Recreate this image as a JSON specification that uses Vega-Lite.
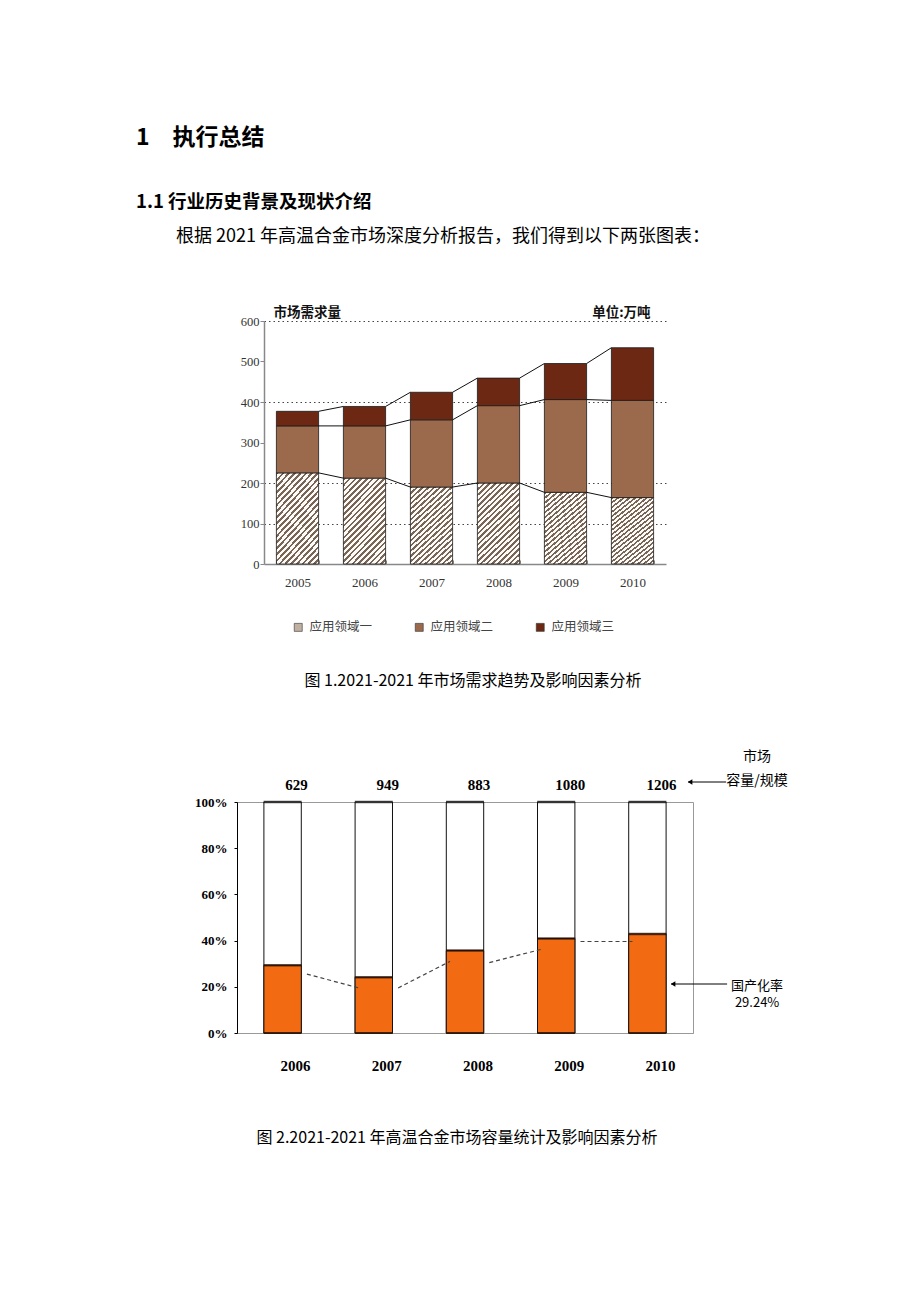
{
  "$schema": "https://vega.github.io/schema/vega-lite/v6.json",
  "padding": {"left": 136, "top": 126, "right": 10, "bottom": 10},
  "background": "white",
  "config": {
    "font": "Noto Sans CJK SC",
    "view": {"stroke": null},
    "axis": {"grid": false}
  },
  "title": {
    "text": "1　执行总结",
    "subtitle": "1.1  行业历史背景及现状介绍",
    "anchor": "start", "frame": "bounds", "dx": -40, "offset": 17,
    "font": "Noto Sans CJK SC", "fontSize": 23, "fontWeight": "bold", "color": "#000",
    "subtitleFont": "Noto Sans CJK SC", "subtitleFontSize": 18.5, "subtitleFontWeight": "bold",
    "subtitleColor": "#000", "subtitlePadding": 43
  },
  "spacing": 60,
  "vconcat": [
    {
      "title": {
        "text": "根据 2021 年高温合金市场深度分析报告，我们得到以下两张图表：",
        "anchor": "start", "frame": "bounds", "dx": -61, "offset": 60,
        "font": "Noto Sans CJK SC", "fontSize": 18, "fontWeight": "normal", "color": "#000"
      },
      "spacing": 0,
      "hconcat": [
        {
          "width": 3,
          "height": 243,
          "data": {"values": []},
          "mark": {"type": "point", "opacity": 0}
        },
        {
          "width": 402,
          "height": 243,
          "view": {"stroke": null},
          "title": {
            "text": "图 1.2021-2021 年市场需求趋势及影响因素分析",
            "orient": "bottom", "anchor": "middle", "frame": "group", "dx": 8, "offset": 84,
            "font": "Noto Sans CJK SC", "fontSize": 16, "fontWeight": "normal", "color": "#000"
          },
          "layer": [
            {
              "data": {"values": [
                {"year": "2005", "domain": "应用领域一", "k": 1, "value": 225},
                {"year": "2005", "domain": "应用领域二", "k": 2, "value": 116},
                {"year": "2005", "domain": "应用领域三", "k": 3, "value": 36},
                {"year": "2006", "domain": "应用领域一", "k": 1, "value": 212},
                {"year": "2006", "domain": "应用领域二", "k": 2, "value": 129},
                {"year": "2006", "domain": "应用领域三", "k": 3, "value": 48},
                {"year": "2007", "domain": "应用领域一", "k": 1, "value": 190},
                {"year": "2007", "domain": "应用领域二", "k": 2, "value": 166},
                {"year": "2007", "domain": "应用领域三", "k": 3, "value": 68},
                {"year": "2008", "domain": "应用领域一", "k": 1, "value": 200},
                {"year": "2008", "domain": "应用领域二", "k": 2, "value": 191},
                {"year": "2008", "domain": "应用领域三", "k": 3, "value": 68},
                {"year": "2009", "domain": "应用领域一", "k": 1, "value": 177},
                {"year": "2009", "domain": "应用领域二", "k": 2, "value": 229},
                {"year": "2009", "domain": "应用领域三", "k": 3, "value": 89},
                {"year": "2010", "domain": "应用领域一", "k": 1, "value": 164},
                {"year": "2010", "domain": "应用领域二", "k": 2, "value": 240},
                {"year": "2010", "domain": "应用领域三", "k": 3, "value": 130}
              ]},
              "mark": {"type": "bar", "stroke": "#1a1a1a", "strokeWidth": 0.8},
              "encoding": {
                "x": {
                  "field": "year", "type": "ordinal",
                  "scale": {"paddingInner": 0.37, "paddingOuter": 0.185},
                  "axis": {
                    "title": null, "labelAngle": 0, "labelFont": "Liberation Serif", "labelFontSize": 13,
                    "labelColor": "#333", "labelPadding": 16, "ticks": true, "tickBand": "extent",
                    "tickSize": -4, "tickColor": "#888", "domainColor": "#888", "domainWidth": 1.5
                  }
                },
                "y": {
                  "field": "value", "type": "quantitative", "stack": "zero",
                  "scale": {"domain": [0, 600], "nice": false},
                  "axis": {
                    "title": null,
                    "values": [0, 100, 200, 300, 400, 500, 600],
                    "labelFont": "Liberation Serif", "labelFontSize": 12.5, "labelColor": "#333",
                    "labelPadding": 1, "tickSize": 4, "tickColor": "#888", "domainColor": "#888",
                    "domainWidth": 1.5, "grid": true, "gridDash": [1.5, 3], "gridColor": "#444",
                    "gridOpacity": {"condition": {"test": "datum.value === 300 || datum.value === 500 || datum.value === 0", "value": 0}, "value": 1}
                  }
                },
                "fill": {
                  "field": "domain", "type": "nominal",
                  "condition": {"test": "datum.k === 1", "value": {"gradient": "linear", "x1": 0, "y1": 0, "x2": 0.6, "y2": 1.2, "stops": [
                        {"offset": 0, "color": "#7a6656"}, {"offset": 0.02045, "color": "#7a6656"}, {"offset": 0.02045, "color": "#fdfbf8"}, {"offset": 0.04545, "color": "#fdfbf8"},
                        {"offset": 0.04545, "color": "#7a6656"}, {"offset": 0.06591, "color": "#7a6656"}, {"offset": 0.06591, "color": "#fdfbf8"}, {"offset": 0.09091, "color": "#fdfbf8"},
                        {"offset": 0.09091, "color": "#7a6656"}, {"offset": 0.11136, "color": "#7a6656"}, {"offset": 0.11136, "color": "#fdfbf8"}, {"offset": 0.13636, "color": "#fdfbf8"},
                        {"offset": 0.13636, "color": "#7a6656"}, {"offset": 0.15682, "color": "#7a6656"}, {"offset": 0.15682, "color": "#fdfbf8"}, {"offset": 0.18182, "color": "#fdfbf8"},
                        {"offset": 0.18182, "color": "#7a6656"}, {"offset": 0.20227, "color": "#7a6656"}, {"offset": 0.20227, "color": "#fdfbf8"}, {"offset": 0.22727, "color": "#fdfbf8"},
                        {"offset": 0.22727, "color": "#7a6656"}, {"offset": 0.24773, "color": "#7a6656"}, {"offset": 0.24773, "color": "#fdfbf8"}, {"offset": 0.27273, "color": "#fdfbf8"},
                        {"offset": 0.27273, "color": "#7a6656"}, {"offset": 0.29318, "color": "#7a6656"}, {"offset": 0.29318, "color": "#fdfbf8"}, {"offset": 0.31818, "color": "#fdfbf8"},
                        {"offset": 0.31818, "color": "#7a6656"}, {"offset": 0.33864, "color": "#7a6656"}, {"offset": 0.33864, "color": "#fdfbf8"}, {"offset": 0.36364, "color": "#fdfbf8"},
                        {"offset": 0.36364, "color": "#7a6656"}, {"offset": 0.38409, "color": "#7a6656"}, {"offset": 0.38409, "color": "#fdfbf8"}, {"offset": 0.40909, "color": "#fdfbf8"},
                        {"offset": 0.40909, "color": "#7a6656"}, {"offset": 0.42955, "color": "#7a6656"}, {"offset": 0.42955, "color": "#fdfbf8"}, {"offset": 0.45455, "color": "#fdfbf8"},
                        {"offset": 0.45455, "color": "#7a6656"}, {"offset": 0.475, "color": "#7a6656"}, {"offset": 0.475, "color": "#fdfbf8"}, {"offset": 0.5, "color": "#fdfbf8"},
                        {"offset": 0.5, "color": "#7a6656"}, {"offset": 0.52045, "color": "#7a6656"}, {"offset": 0.52045, "color": "#fdfbf8"}, {"offset": 0.54545, "color": "#fdfbf8"},
                        {"offset": 0.54545, "color": "#7a6656"}, {"offset": 0.56591, "color": "#7a6656"}, {"offset": 0.56591, "color": "#fdfbf8"}, {"offset": 0.59091, "color": "#fdfbf8"},
                        {"offset": 0.59091, "color": "#7a6656"}, {"offset": 0.61136, "color": "#7a6656"}, {"offset": 0.61136, "color": "#fdfbf8"}, {"offset": 0.63636, "color": "#fdfbf8"},
                        {"offset": 0.63636, "color": "#7a6656"}, {"offset": 0.65682, "color": "#7a6656"}, {"offset": 0.65682, "color": "#fdfbf8"}, {"offset": 0.68182, "color": "#fdfbf8"},
                        {"offset": 0.68182, "color": "#7a6656"}, {"offset": 0.70227, "color": "#7a6656"}, {"offset": 0.70227, "color": "#fdfbf8"}, {"offset": 0.72727, "color": "#fdfbf8"},
                        {"offset": 0.72727, "color": "#7a6656"}, {"offset": 0.74773, "color": "#7a6656"}, {"offset": 0.74773, "color": "#fdfbf8"}, {"offset": 0.77273, "color": "#fdfbf8"},
                        {"offset": 0.77273, "color": "#7a6656"}, {"offset": 0.79318, "color": "#7a6656"}, {"offset": 0.79318, "color": "#fdfbf8"}, {"offset": 0.81818, "color": "#fdfbf8"},
                        {"offset": 0.81818, "color": "#7a6656"}, {"offset": 0.83864, "color": "#7a6656"}, {"offset": 0.83864, "color": "#fdfbf8"}, {"offset": 0.86364, "color": "#fdfbf8"},
                        {"offset": 0.86364, "color": "#7a6656"}, {"offset": 0.88409, "color": "#7a6656"}, {"offset": 0.88409, "color": "#fdfbf8"}, {"offset": 0.90909, "color": "#fdfbf8"},
                        {"offset": 0.90909, "color": "#7a6656"}, {"offset": 0.92955, "color": "#7a6656"}, {"offset": 0.92955, "color": "#fdfbf8"}, {"offset": 0.95455, "color": "#fdfbf8"},
                        {"offset": 0.95455, "color": "#7a6656"}, {"offset": 0.975, "color": "#7a6656"}, {"offset": 0.975, "color": "#fdfbf8"}, {"offset": 1, "color": "#fdfbf8"}
                      ]}},
                  "scale": {
                    "domain": ["应用领域一", "应用领域二", "应用领域三"],
                    "range": ["#c0b0a2", "#9b6a4c", "#6c2813"]
                  },
                  "legend": {
                    "orient": "none", "legendX": 55, "legendY": 300, "direction": "horizontal",
                    "title": null, "symbolType": "square", "symbolSize": 64,
                    "symbolStrokeColor": "#333", "symbolStrokeWidth": 0.6,
                    "labelFont": "Noto Sans CJK SC", "labelFontSize": 12.5, "labelColor": "#444",
                    "labelOffset": 5, "columnPadding": 40
                  }
                },
                "order": {"field": "k", "type": "quantitative"}
              }
            },
            {
              "data": {"values": [
                {"from": "2005", "to": "2006", "y1": 225, "y2": 212},
                {"from": "2006", "to": "2007", "y1": 212, "y2": 190},
                {"from": "2007", "to": "2008", "y1": 190, "y2": 200},
                {"from": "2008", "to": "2009", "y1": 200, "y2": 177},
                {"from": "2009", "to": "2010", "y1": 177, "y2": 164},
                {"from": "2005", "to": "2006", "y1": 341, "y2": 341},
                {"from": "2006", "to": "2007", "y1": 341, "y2": 356},
                {"from": "2007", "to": "2008", "y1": 356, "y2": 391},
                {"from": "2008", "to": "2009", "y1": 391, "y2": 406},
                {"from": "2009", "to": "2010", "y1": 406, "y2": 404},
                {"from": "2005", "to": "2006", "y1": 377, "y2": 389},
                {"from": "2006", "to": "2007", "y1": 389, "y2": 424},
                {"from": "2007", "to": "2008", "y1": 424, "y2": 459},
                {"from": "2008", "to": "2009", "y1": 459, "y2": 495},
                {"from": "2009", "to": "2010", "y1": 495, "y2": 534}
              ]},
              "mark": {"type": "rule", "color": "#111", "strokeWidth": 1},
              "encoding": {
                "x": {"field": "from", "type": "ordinal", "bandPosition": 1},
                "x2": {"field": "to", "bandPosition": 0},
                "y": {"field": "y1", "type": "quantitative"},
                "y2": {"field": "y2"}
              }
            },
            {
              "data": {"values": [{"t": "市场需求量"}]},
              "mark": {"type": "text", "align": "left", "baseline": "middle", "dx": -3, "dy": -8,
                       "font": "Noto Sans CJK SC", "fontSize": 13.5, "fontWeight": "bold", "color": "#111"},
              "encoding": {
                "text": {"field": "t"},
                "x": {"datum": "2005", "type": "ordinal", "bandPosition": 0},
                "y": {"datum": 600, "type": "quantitative"}
              }
            },
            {
              "data": {"values": [{"t": "单位:万吨"}]},
              "mark": {"type": "text", "align": "right", "baseline": "middle", "dx": -3, "dy": -8,
                       "font": "Noto Sans CJK SC", "fontSize": 13.5, "fontWeight": "bold", "color": "#111"},
              "encoding": {
                "text": {"field": "t"},
                "x": {"datum": "2010", "type": "ordinal", "bandPosition": 1},
                "y": {"datum": 600, "type": "quantitative"}
              }
            }
          ]
        }
      ]
    },
    {
      "width": 456,
      "height": 231,
      "view": {"stroke": "#999", "strokeWidth": 1},
      "title": {
        "text": "图 2.2021-2021 年高温合金市场容量统计及影响因素分析",
        "orient": "bottom", "anchor": "middle", "frame": "group", "dx": -8, "offset": 56,
        "font": "Noto Sans CJK SC", "fontSize": 16, "fontWeight": "normal", "color": "#000"
      },
      "data": {"values": [
        {"year": "2006", "rate": 0.293, "size": 629},
        {"year": "2007", "rate": 0.241, "size": 949},
        {"year": "2008", "rate": 0.357, "size": 883},
        {"year": "2009", "rate": 0.409, "size": 1080},
        {"year": "2010", "rate": 0.429, "size": 1206}
      ]},
      "layer": [
        {
          "mark": {"type": "bar", "fill": "white", "stroke": "#111", "strokeWidth": 1},
          "encoding": {
            "x": {"field": "year", "type": "ordinal"},
            "y": {"datum": 1, "type": "quantitative"},
            "y2": {"datum": 0}
          }
        },
        {
          "mark": {"type": "bar", "fill": "#F26B12", "stroke": "#111", "strokeWidth": 1},
          "encoding": {
            "x": {
              "field": "year", "type": "ordinal",
              "scale": {"paddingInner": 0.59, "paddingOuter": 0.295},
              "axis": {
                "title": null, "labels": false, "ticks": false, "domainColor": "#999"
              }
            },
            "y": {
              "field": "rate", "type": "quantitative",
              "scale": {"domain": [0, 1], "nice": false},
              "axis": {
                "title": null, "values": [0, 0.2, 0.4, 0.6, 0.8, 1], "format": ".0%",
                "labelFont": "Liberation Serif", "labelFontSize": 13, "labelFontWeight": "bold",
                "labelColor": "#000", "labelPadding": 7, "tickSize": 3, "tickColor": "#000",
                "domainColor": "#000", "grid": false
              }
            }
          }
        },
        {
          "mark": {"type": "tick", "color": "#2a1000", "thickness": 2.5, "size": 38},
          "encoding": {
            "x": {"field": "year", "type": "ordinal"},
            "y": {"field": "rate", "type": "quantitative"}
          }
        },
        {
          "mark": {"type": "tick", "color": "#111", "thickness": 2.5, "size": 38},
          "encoding": {
            "x": {"field": "year", "type": "ordinal"},
            "y": {"datum": 1, "type": "quantitative"}
          }
        },
        {
          "mark": {"type": "tick", "color": "#2a1000", "thickness": 2, "size": 38},
          "encoding": {
            "x": {"field": "year", "type": "ordinal"},
            "y": {"datum": 0, "type": "quantitative"}
          }
        },
        {
          "data": {"values": [
            {"from": "2006", "to": "2007", "r1": 0.255, "r2": 0.195},
            {"from": "2007", "to": "2008", "r1": 0.195, "r2": 0.31},
            {"from": "2008", "to": "2009", "r1": 0.305, "r2": 0.362},
            {"from": "2009", "to": "2010", "r1": 0.396, "r2": 0.396}
          ]},
          "mark": {"type": "rule", "color": "#444", "strokeWidth": 1.2, "strokeDash": [4, 3]},
          "encoding": {
            "x": {"field": "from", "type": "ordinal", "bandPosition": 1.15},
            "x2": {"field": "to", "bandPosition": 0.1},
            "y": {"field": "r1", "type": "quantitative"},
            "y2": {"field": "r2"}
          }
        },
        {
          "mark": {"type": "text", "dy": -17, "dx": 14, "font": "Liberation Serif", "fontSize": 15,
                   "fontWeight": "bold", "baseline": "middle", "color": "#000"},
          "encoding": {
            "x": {"field": "year", "type": "ordinal"},
            "y": {"datum": 1, "type": "quantitative"},
            "text": {"field": "size"}
          }
        },
        {
          "mark": {"type": "text", "dy": 33, "dx": 13, "font": "Liberation Serif", "fontSize": 15,
                   "fontWeight": "bold", "baseline": "middle", "color": "#000"},
          "encoding": {
            "x": {"field": "year", "type": "ordinal"},
            "y": {"datum": 0, "type": "quantitative"},
            "text": {"field": "year"}
          }
        },
        {
          "data": {"values": [{"t": "市场\n容量/规模"}]},
          "mark": {"type": "text", "lineBreak": "\n", "align": "center", "baseline": "middle",
                   "font": "Noto Sans CJK SC", "fontSize": 14, "lineHeight": 24, "dx": 91, "dy": -45, "color": "#000"},
          "encoding": {
            "x": {"datum": "2010", "type": "ordinal", "bandPosition": 1},
            "y": {"datum": 1, "type": "quantitative"},
            "text": {"field": "t"}
          }
        },
        {
          "data": {"values": [{"t": "arrow"}]},
          "mark": {"type": "rule", "color": "#000", "strokeWidth": 1, "xOffset": 22, "x2Offset": 60, "yOffset": -20},
          "encoding": {
            "x": {"datum": "2010", "type": "ordinal", "bandPosition": 1},
            "x2": {"datum": "2010", "bandPosition": 1},
            "y": {"datum": 1, "type": "quantitative"}
          }
        },
        {
          "data": {"values": [{"t": "arrow"}]},
          "mark": {"type": "point", "shape": "triangle-left", "filled": true, "size": 28, "color": "#000", "opacity": 1,
                   "xOffset": 24, "yOffset": -20},
          "encoding": {
            "x": {"datum": "2010", "type": "ordinal", "bandPosition": 1},
            "y": {"datum": 1, "type": "quantitative"}
          }
        },
        {
          "data": {"values": [{"t": "国产化率\n29.24%"}]},
          "mark": {"type": "text", "lineBreak": "\n", "align": "center", "baseline": "middle",
                   "font": "Noto Sans CJK SC", "fontSize": 13, "lineHeight": 17, "dx": 91, "dy": -47.5, "color": "#000"},
          "encoding": {
            "x": {"datum": "2010", "type": "ordinal", "bandPosition": 1},
            "y": {"datum": 0, "type": "quantitative"},
            "text": {"field": "t"}
          }
        },
        {
          "data": {"values": [{"t": "arrow"}]},
          "mark": {"type": "rule", "color": "#000", "strokeWidth": 1, "xOffset": 5, "x2Offset": 61, "yOffset": -49},
          "encoding": {
            "x": {"datum": "2010", "type": "ordinal", "bandPosition": 1},
            "x2": {"datum": "2010", "bandPosition": 1},
            "y": {"datum": 0, "type": "quantitative"}
          }
        },
        {
          "data": {"values": [{"t": "arrow"}]},
          "mark": {"type": "point", "shape": "triangle-left", "filled": true, "size": 28, "color": "#000", "opacity": 1,
                   "xOffset": 7, "yOffset": -49},
          "encoding": {
            "x": {"datum": "2010", "type": "ordinal", "bandPosition": 1},
            "y": {"datum": 0, "type": "quantitative"}
          }
        }
      ]
    }
  ]
}
